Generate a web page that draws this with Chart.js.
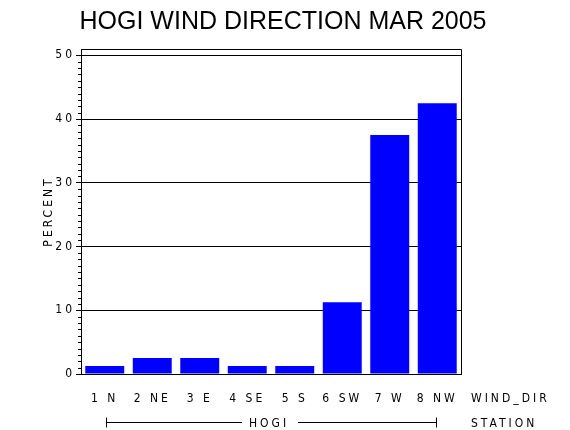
<!DOCTYPE html>
<html>
<head>
<meta charset="utf-8">
<script src="https://cdn.jsdelivr.net/npm/chart.js@4/dist/chart.umd.min.js"></script>
<style>
  html, body { margin: 0; padding: 0; background: #fff; }
  #wrap { width: 570px; height: 430px; }
</style>
</head>
<body>
<div id="wrap"><canvas id="windChart" width="570" height="430"></canvas></div>
<script>
// wind direction categories and percent of hours
const windDirs = ['1 N', '2 NE', '3 E', '4 SE', '5 S', '6 SW', '7 W', '8 NW'];
const percentVals = [1.25, 2.5, 2.5, 1.25, 1.25, 11.25, 37.5, 42.5];
const titleText = 'HOGI WIND DIRECTION MAR 2005';
const stationName = 'HOGI';

const tickFont = "'DejaVu Sans Condensed', 'DejaVu Sans', sans-serif";

// extra pieces SAS draws: frame, minor ticks, titles, station bracket
const extrasPlugin = {
    id: 'extras',
    beforeDraw(chart) {
        chart.ctx.letterSpacing = '3px';
    },
    afterDraw(chart) {
        const ctx = chart.ctx;
        const area = chart.chartArea;
        const y = chart.scales.y;
        ctx.save();
        ctx.strokeStyle = '#000';
        ctx.lineWidth = 1;

        // right and top border of the frame
        ctx.beginPath();
        ctx.moveTo(area.left, Math.round(area.top) + 0.5);
        ctx.lineTo(Math.round(area.right) + 0.5, Math.round(area.top) + 0.5);
        ctx.lineTo(Math.round(area.right) + 0.5, area.bottom);
        ctx.stroke();

        // minor ticks every 1 percent
        ctx.beginPath();
        for (let v = 1; v < 51; v++) {
            if (v % 10 === 0) continue;
            const py = Math.round(y.getPixelForValue(v)) + 0.5;
            ctx.moveTo(area.left - 3, py);
            ctx.lineTo(area.left, py);
        }
        ctx.stroke();

        // title
        ctx.letterSpacing = '0px';
        ctx.fillStyle = '#000';
        ctx.font = "25px 'Liberation Sans', Arial, sans-serif";
        ctx.textAlign = 'center';
        ctx.textBaseline = 'alphabetic';
        ctx.fillText(titleText, 283, 29);

        ctx.letterSpacing = '3px';
        ctx.font = '12px ' + tickFont;

        // y axis title
        ctx.save();
        ctx.translate(49, (area.top + area.bottom) / 2);
        ctx.rotate(-Math.PI / 2);
        ctx.textAlign = 'center';
        ctx.textBaseline = 'middle';
        ctx.fillText('PERCENT', 0, 0);
        ctx.restore();

        // right side axis names
        ctx.textAlign = 'left';
        ctx.textBaseline = 'middle';
        ctx.fillText('WIND_DIR', 471, 399);
        ctx.fillText('STATION', 471, 424);

        // station bracket under the categories
        const x0 = 106, x1 = 436;
        const by = 422.5;
        ctx.textAlign = 'center';
        ctx.fillText(stationName, 269, 424);
        ctx.beginPath();
        ctx.moveTo(x0 + 0.5, by - 5);
        ctx.lineTo(x0 + 0.5, by + 5);
        ctx.moveTo(x0, by);
        ctx.lineTo(242, by);
        ctx.moveTo(298, by);
        ctx.lineTo(x1, by);
        ctx.moveTo(x1 + 0.5, by - 5);
        ctx.lineTo(x1 + 0.5, by + 5);
        ctx.stroke();

        ctx.restore();
    }
};

const ctx = document.getElementById('windChart').getContext('2d');
new Chart(ctx, {
    type: 'bar',
    data: {
        labels: windDirs,
        datasets: [{
            data: percentVals,
            backgroundColor: '#0000ff',
            borderWidth: 0,
            barPercentage: 0.82,
            categoryPercentage: 1.0
        }]
    },
    options: {
        responsive: false,
        animation: false,
        devicePixelRatio: 1,
        layout: { padding: { top: 49, left: 0, right: 109, bottom: 0 } },
        plugins: {
            legend: { display: false },
            tooltip: { enabled: false },
            title: { display: false }
        },
        scales: {
            x: {
                grid: { display: false },
                border: { color: '#000', width: 1 },
                ticks: {
                    color: '#000',
                    font: { family: tickFont, size: 12 },
                    padding: 10,
                    maxRotation: 0,
                    autoSkip: false
                },
                afterFit(scale) { scale.height = 56; }
            },
            y: {
                min: 0,
                max: 51,
                border: { color: '#000', width: 1 },
                grid: {
                    color: (c) => (c.tick && c.tick.value === 0 ? 'rgba(0,0,0,0)' : '#000'),
                    tickColor: '#000',
                    tickLength: 5,
                    lineWidth: 1
                },
                ticks: {
                    stepSize: 10,
                    includeBounds: false,
                    color: '#000',
                    font: { family: tickFont, size: 12 },
                    padding: 1
                },
                afterFit(scale) { scale.width = 81; }
            }
        }
    },
    plugins: [extrasPlugin]
});
</script>
</body>
</html>
